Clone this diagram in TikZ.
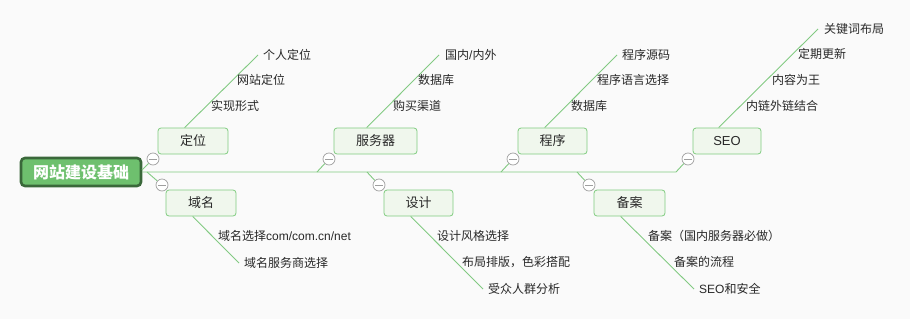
\documentclass[tikz,border=0pt]{standalone}
\usepackage{fontspec}
\setmainfont{Noto Sans CJK SC}
\newfontfamily\latn{Liberation Sans}
\usetikzlibrary{calc}
\definecolor{lineg}{RGB}{130,202,130}
\definecolor{boxfill}{RGB}{240,247,237}
\definecolor{boxdraw}{RGB}{128,204,128}
\definecolor{rootfill}{RGB}{110,192,110}
\definecolor{rootdraw}{RGB}{58,104,58}
\definecolor{bgc}{RGB}{250,250,250}
\definecolor{txt}{RGB}{40,40,40}
\begin{document}
\begin{tikzpicture}[x=1pt,y=-1pt,
  topic/.style={draw=boxdraw, fill=boxfill, rounded corners=3pt, line width=0.8pt,
    minimum height=26pt, inner sep=0pt, text=txt, font=\fontsize{13}{15}\selectfont},
  rootbox/.style={draw=rootdraw, fill=rootfill, rounded corners=4pt, line width=2.6pt,
    minimum width=120pt, minimum height=28pt, inner sep=0pt, text=white,
    font=\fontsize{16}{18}\selectfont\bfseries},
  toggle/.style={circle, draw=gray!75, fill=white, minimum size=12pt, inner sep=0pt, line width=0.7pt,
    path picture={\draw[gray!75,line width=0.8pt]
      ([xshift=-4pt]path picture bounding box.center) -- ([xshift=4pt]path picture bounding box.center);}},
  sub/.style={anchor=west, inner sep=0pt, text=txt, font=\fontsize{12}{14}\selectfont},
  conn/.style={draw=lineg, line width=0.9pt}
]
\fill[bgc] (0,0) rectangle (910,319);
\useasboundingbox (0,0) rectangle (910,319);

% root
\node[rootbox] (root) at (81,172) {网站建设基础};

% main topics
\node[topic, minimum width=70pt] (b1) at (193,141) {定位};
\node[topic, minimum width=83pt] (b2) at (375.5,141) {服务器};
\node[topic, minimum width=69pt] (b3) at (552.5,141) {程序};
\node[topic, minimum width=68pt] (b4) at (727,141) {\latn SEO};
\node[topic, minimum width=70pt] (b5) at (201,203) {域名};
\node[topic, minimum width=69pt] (b6) at (418.5,203) {设计};
\node[topic, minimum width=71pt] (b7) at (629.5,203) {备案};

% toggles
\node[toggle] (c1) at (153,159) {};
\node[toggle] (c2) at (162,185) {};
\node[toggle] (c3) at (329,159) {};
\node[toggle] (c4) at (379,185) {};
\node[toggle] (c5) at (513,159) {};
\node[toggle] (c6) at (589,185) {};
\node[toggle] (c7) at (688,159) {};

% spine junctions
\coordinate (j1) at (142,170);
\coordinate (j2) at (147,172);
\coordinate (j3) at (317,172);
\coordinate (j4) at (367,172);
\coordinate (j5) at (501,172);
\coordinate (j6) at (577,172);
\coordinate (j7) at (676,172);
\coordinate (s0) at (root.east);

\draw[conn] (s0) -- (j7) -- (c7);
\draw[conn] (j1) -- (c1);
\draw[conn] (j2) -- (c2);
\draw[conn] (j3) -- (c3);
\draw[conn] (j4) -- (c4);
\draw[conn] (j5) -- (c5);
\draw[conn] (j6) -- (c6);

% subtopic lines
\coordinate (e1) at (258,55);
\coordinate (e2) at (439,55);
\coordinate (e3) at (617,55);
\coordinate (e4) at (818,29);
\coordinate (e5) at (239,263);
\coordinate (e6) at (483,289);
\coordinate (e7) at (694,289);
\draw[conn] ($(b1.north west)+(27,0)$) -- (e1);
\draw[conn] ($(b2.north west)+(33,0)$) -- (e2);
\draw[conn] ($(b3.north west)+(27,0)$) -- (e3);
\draw[conn] ($(b4.north west)+(26,0)$) -- (e4);
\draw[conn] ($(b5.south west)+(27,0)$) -- (e5);
\draw[conn] ($(b6.south west)+(27,0)$) -- (e6);
\draw[conn] ($(b7.south west)+(27,0)$) -- (e7);

% labels
\node[sub] (l11) at (263,55) {个人定位};
\node[sub] (l12) at (237,80) {网站定位};
\node[sub] (l13) at (211,106) {实现形式};

\node[sub] (l21) at (445,55) {国内{\latn /}内外};
\node[sub] (l22) at (418,80) {数据库};
\node[sub] (l23) at (393,106) {购买渠道};

\node[sub] (l31) at (622,55) {程序源码};
\node[sub] (l32) at (597,80) {程序语言选择};
\node[sub] (l33) at (571,106) {数据库};

\node[sub] (l41) at (824,29) {关键词布局};
\node[sub] (l42) at (798,54) {定期更新};
\node[sub] (l43) at (772,80) {内容为王};
\node[sub] (l44) at (746,106) {内链外链结合};

\node[sub] (l51) at (218,236) {域名选择{\latn com/com.cn/net}};
\node[sub] (l52) at (244,263) {域名服务商选择};

\node[sub] (l61) at (437,236) {设计风格选择};
\node[sub] (l62) at (462,262) {布局排版，色彩搭配};
\node[sub] (l63) at (488,289) {受众人群分析};

\node[sub] (l71) at (648,236) {备案（国内服务器必做）};
\node[sub] (l72) at (674,262) {备案的流程};
\node[sub] (l73) at (699,289) {{\latn SEO}和安全};
\end{tikzpicture}
\end{document}
